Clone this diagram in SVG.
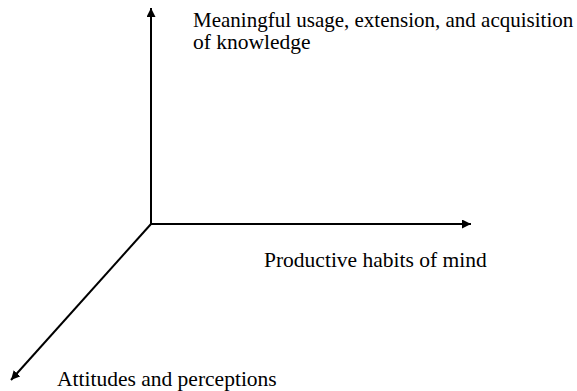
<svg xmlns="http://www.w3.org/2000/svg" width="577" height="391" viewBox="0 0 577 391">
<style>
.ax{stroke:#000;stroke-width:2;fill:none}
.lb{font-family:"Liberation Serif","Times New Roman",serif;font-size:21.5px;fill:#000}
.top{font-size:21px}
</style>
<defs>
<marker id="ah" markerUnits="userSpaceOnUse" markerWidth="10" markerHeight="10" refX="9" refY="4.5" orient="auto">
<path d="M0,0 L9,4.5 L0,9 Z" fill="#000"/>
</marker>
</defs>
<g id="connectors">
<line class="ax" x1="151" y1="224" x2="151" y2="8" marker-end="url(#ah)"/>
<line class="ax" x1="150" y1="224" x2="471" y2="224" marker-end="url(#ah)"/>
<line class="ax" x1="151" y1="224" x2="11" y2="380" marker-end="url(#ah)"/>
</g>
<g id="node-knowledge">
<text class="lb top" x="193" y="27">Meaningful usage, extension, and acquisition</text>
<text class="lb" x="193" y="49">of knowledge</text>
</g>
<g id="node-habits">
<text class="lb" x="264" y="267">Productive habits of mind</text>
</g>
<g id="node-attitudes">
<text class="lb" x="57" y="386">Attitudes and perceptions</text>
</g>
</svg>
